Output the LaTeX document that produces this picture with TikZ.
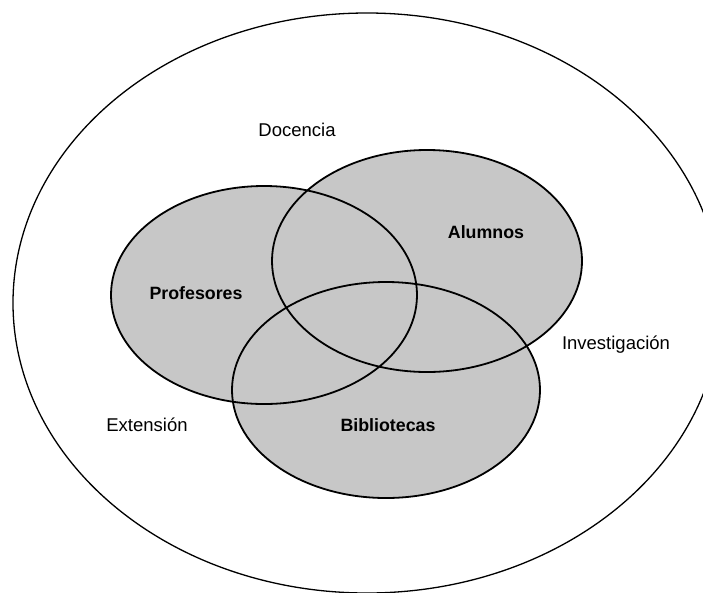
\documentclass[tikz,border=0pt]{standalone}
\usepackage{fontspec}
\setmainfont{Liberation Sans}
\begin{document}
\begin{tikzpicture}[x=1pt,y=-1pt,
  setfill/.style={fill=black!22},
  setline/.style={draw=black,line width=1.8pt},
  outerline/.style={draw=black,line width=1.3pt},
  outerlabel/.style={font=\fontsize{18.5}{20}\selectfont,inner sep=0pt},
  setlabel/.style={font=\fontsize{17.8}{20}\selectfont\bfseries,inner sep=0pt}]
\useasboundingbox (0,0) rectangle (703,592);
\clip (0,0) rectangle (703,592);
\fill[white] (0,0) rectangle (703,592);
% outer ellipse
\draw[outerline] (367,303) ellipse [x radius=354, y radius=290];
% set fills
\fill[setfill] (264,295) ellipse [x radius=153, y radius=109];
\fill[setfill] (427,261) ellipse [x radius=155, y radius=111];
\fill[setfill] (386,390) ellipse [x radius=154, y radius=108];
% set borders
\draw[setline] (264,295) ellipse [x radius=153, y radius=109];
\draw[setline] (427,261) ellipse [x radius=155, y radius=111];
\draw[setline] (386,390) ellipse [x radius=154, y radius=108];
% labels
\node[outerlabel] (docencia) at (297,130) {Docencia};
\node[outerlabel] (extension) at (147,425) {Extensión};
\node[outerlabel] (investigacion) at (616,345) {Investigación};
\node[setlabel] (profesores) at (196,293) {Profesores};
\node[setlabel] (alumnos) at (486,232) {Alumnos};
\node[setlabel] (bibliotecas) at (388,425) {Bibliotecas};
\end{tikzpicture}
\end{document}
